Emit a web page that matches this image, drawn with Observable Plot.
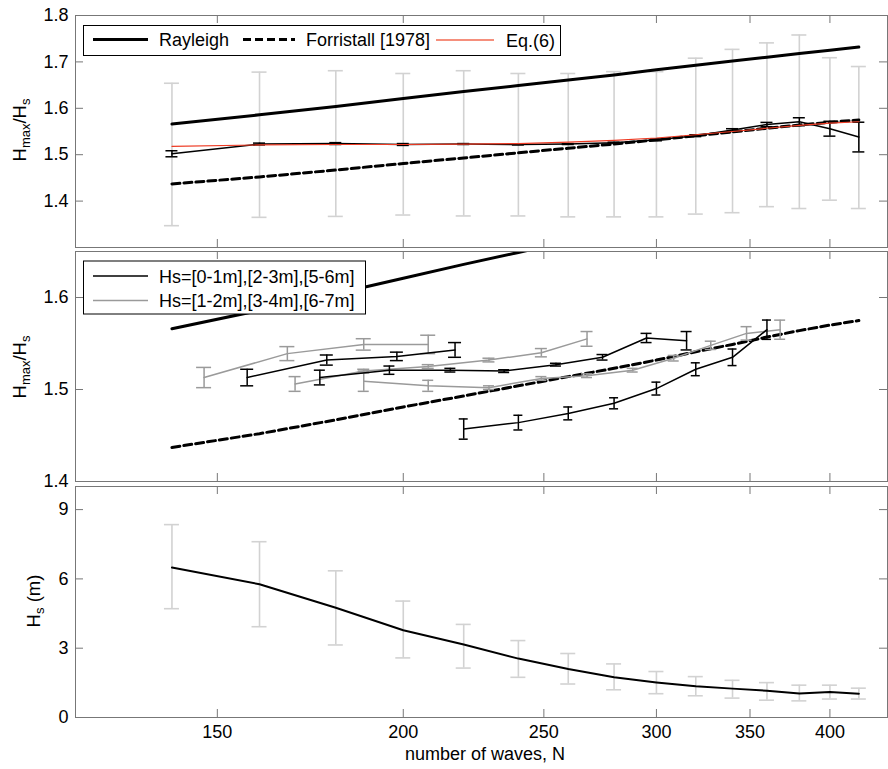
<!DOCTYPE html>
<html><head><meta charset="utf-8">
<script src="https://cdn.jsdelivr.net/npm/d3@7"></script>
<script src="https://cdn.jsdelivr.net/npm/@observablehq/plot@0.6"></script>
<style>
body{margin:0;background:#fff;}
#chart{position:relative;width:888px;height:769px;overflow:hidden;background:#fff;}
#chart svg{position:absolute;left:0;display:block;overflow:visible;}
</style></head><body><div id="chart"></div>
<script>
// ---------- data ----------
const waveN = [140,160,180,200,220,240,260,280,300,320,340,360,380,400,420];
const xTickValues = [150,200,250,300,350,400];
const rayleigh   = [1.566,1.586,1.604,1.621,1.636,1.649,1.661,1.672,1.683,1.693,1.702,1.710,1.718,1.725,1.732];
const forristall = [1.437,1.452,1.467,1.481,1.493,1.504,1.514,1.523,1.532,1.541,1.549,1.557,1.564,1.570,1.575];
const eq6        = [1.518,1.521,1.522,1.522,1.523,1.524,1.527,1.531,1.536,1.543,1.550,1.557,1.563,1.568,1.571];
const ratioMean  = [1.502,1.523,1.524,1.522,1.523,1.522,1.523,1.526,1.532,1.541,1.553,1.565,1.571,1.556,1.538];
const ratioErr   = [0.0065,0.002,0.002,0.002,0.001,0.001,0.001,0.001,0.002,0.002,0.003,0.0046,0.0086,0.016,0.032];
const spreadLo   = [1.347,1.365,1.367,1.370,1.368,1.368,1.366,1.366,1.366,1.372,1.375,1.388,1.384,1.402,1.384];
const spreadHi   = [1.654,1.678,1.681,1.675,1.681,1.675,1.675,1.679,1.679,1.708,1.727,1.741,1.758,1.709,1.690];
const hsMean     = [6.49,5.77,4.75,3.78,3.16,2.55,2.10,1.74,1.52,1.35,1.25,1.16,1.04,1.10,1.03];
const hsLo       = [4.71,3.93,3.14,2.58,2.14,1.74,1.45,1.20,1.03,0.94,0.84,0.75,0.72,0.80,0.80];
const hsHi       = [8.35,7.61,6.35,5.04,4.03,3.33,2.77,2.32,1.99,1.77,1.61,1.51,1.40,1.40,1.27];

// middle panel: Hs classes
const hs67N = [147,167,188,208];
const hs67V = [1.513,1.539,1.549,1.549];
const hs67E = [0.011,0.0076,0.0062,0.010];
const hs56N = [157,177.5,198,217];
const hs56V = [1.513,1.532,1.536,1.543];
const hs56E = [0.009,0.0055,0.0046,0.008];
const hs34N = [169,188,208,229,249,268];
const hs34V = [1.506,1.520,1.525,1.532,1.540,1.555];
const hs34E = [0.008,0.002,0.002,0.002,0.0045,0.008];
const hs23N = [175.6,195.7,215.4,234.6,254.9,274.8,295.2,315.2];
const hs23V = [1.513,1.521,1.521,1.520,1.527,1.535,1.556,1.553];
const hs23E = [0.008,0.0045,0.002,0.0015,0.0015,0.003,0.005,0.010];
const hs12N = [188,208,229,249,268,288.6,308.6,328,348,368];
const hs12V = [1.509,1.504,1.502,1.512,1.515,1.521,1.534,1.548,1.561,1.565];
const hs12E = [0.011,0.006,0.002,0.002,0.002,0.002,0.003,0.0045,0.0073,0.0104];
const hs01N = [220,240,260,280,300,320,340,360];
const hs01V = [1.457,1.464,1.474,1.485,1.501,1.522,1.535,1.565];
const hs01E = [0.011,0.008,0.007,0.006,0.007,0.007,0.009,0.0105];

const legendTop = ["Rayleigh","Forristall [1978]","Eq.(6)"];
const legendMid = ["Hs=[0-1m],[2-3m],[5-6m]","Hs=[1-2m],[3-4m],[6-7m]"];

// ---------- build tables ----------
const main = waveN.map((n,i)=>({n, ray:rayleigh[i], forr:forristall[i], eq:eq6[i],
  m:ratioMean[i], mlo:ratioMean[i]-ratioErr[i], mhi:ratioMean[i]+ratioErr[i],
  lo:spreadLo[i], hi:spreadHi[i], hs:hsMean[i], hslo:hsLo[i], hshi:hsHi[i]}));
const series = (N,V,E)=>N.map((n,i)=>({n, v:V[i], lo:V[i]-E[i], hi:V[i]+E[i]}));

// ---------- style ----------
const FONT = '"Liberation Sans", Arial, Helvetica, sans-serif';
const W = 888, ML = 75, MR = 1;
const FRAME = "#777";
const LIGHT = "#d2d2d2", MIDGRAY = "#9a9a9a", RED = "#ee3b24";
const xScale = {type:"pow", exponent:-0.1, domain:[121.1,440.9]};

function frameMarks(yTicks, plotH) {
  const plotW = W - ML - MR;
  return [
    Plot.tickX(xTickValues, {x:d=>d, stroke:FRAME, insetTop:plotH-8}),
    Plot.tickX(xTickValues, {x:d=>d, stroke:FRAME, insetBottom:plotH-8}),
    Plot.tickY(yTicks, {y:d=>d, stroke:FRAME, insetRight:plotW-8}),
    Plot.tickY(yTicks, {y:d=>d, stroke:FRAME, insetLeft:plotW-8}),
    Plot.frame({stroke:FRAME})
  ];
}
function errorBars(data, {x="n", lo="lo", hi="hi", stroke, half, width=1.5}) {
  return [
    Plot.ruleX(data, {x, y1:lo, y2:hi, stroke, strokeWidth:width}),
    Plot.ruleY(data, {x1:x, x2:x, y:lo, stroke, strokeWidth:width, insetLeft:-half, insetRight:-half}),
    Plot.ruleY(data, {x1:x, x2:x, y:hi, stroke, strokeWidth:width, insetLeft:-half, insetRight:-half})
  ];
}
const styleObj = {fontFamily:FONT, fontSize:"18px", color:"#000", background:"transparent"};

function yLabel(svg, x, y, parts) {
  const t = svg.append("text").attr("transform",`translate(${x},${y}) rotate(-90)`)
    .attr("text-anchor","middle").attr("font-family",FONT).attr("font-size",18.5).attr("fill","#000");
  let shift = 0;
  for (const [txt, sub] of parts) {
    const target = sub ? 4 : 0;
    const ts = t.append("tspan").attr("dy", target - shift).text(txt);
    if (sub) ts.attr("font-size", 13);
    shift = target;
  }
}
function legend(svg, box, items) {
  svg.append("rect").attr("x",box[0]).attr("y",box[1]).attr("width",box[2]).attr("height",box[3])
    .attr("fill","#fff").attr("stroke","#000").attr("stroke-width",1);
  for (const it of items) {
    svg.append("line").attr("x1",it.x1).attr("x2",it.x2).attr("y1",it.y).attr("y2",it.y)
      .style("stroke",it.stroke).style("stroke-width",it.w).attr("stroke-dasharray",it.dash||null);
    svg.append("text").attr("x",it.tx).attr("y",it.y+6.5).attr("text-anchor","start")
      .attr("font-family",FONT).attr("font-size",18).attr("fill","#000").text(it.label);
  }
}

const root = d3.select("#chart");

// ---------- top panel ----------
const p1 = Plot.plot({
  width:W, height:249, marginLeft:ML, marginRight:MR, marginTop:15, marginBottom:2,
  style:styleObj,
  x:{...xScale, axis:null},
  y:{domain:[1.3,1.8]},
  marks:[
    ...errorBars(main, {lo:"lo", hi:"hi", stroke:LIGHT, half:7.5, width:1.6}),
    Plot.line(main, {x:"n", y:"ray", stroke:"#000", strokeWidth:3}),
    Plot.line(main, {x:"n", y:"forr", stroke:"#000", strokeWidth:3, strokeDasharray:"8,4"}),
    Plot.line(main, {x:"n", y:"m", stroke:"#000", strokeWidth:1.5}),
    ...errorBars(main, {lo:"mlo", hi:"mhi", stroke:"#000", half:6, width:1.5}),
    Plot.line(main, {x:"n", y:"eq", stroke:RED, strokeWidth:1.2}),
    Plot.axisY({ticks:[1.4,1.5,1.6,1.7,1.8], tickSize:0, tickPadding:7, label:null, tickFormat:d=>d.toFixed(1)}),
    ...frameMarks([1.4,1.5,1.6,1.7,1.8], 232)
  ]
});
root.node().appendChild(p1);
d3.select(p1).style("top","0px");
{
  const s = d3.select(p1);
  legend(s, [83.5,25.5,477,30], [
    {x1:93,x2:148,y:39.5,stroke:"#000",w:3,tx:159,label:legendTop[0]},
    {x1:243,x2:295,y:39.5,stroke:"#000",w:3,dash:"8,4",tx:306,label:legendTop[1]},
    {x1:436,x2:494,y:40,stroke:"#f26a50",w:1.5,tx:506,label:legendTop[2]}
  ]);
  yLabel(s, 26, 130, [["H",false],["max",true],["/H",false],["s",true]]);
}

// ---------- middle panel ----------
const p2 = Plot.plot({
  width:W, height:234, marginLeft:ML, marginRight:MR, marginTop:2, marginBottom:2,
  style:styleObj,
  x:{...xScale, axis:null},
  y:{domain:[1.4,1.65]},
  marks:[
    Plot.line(main, {x:"n", y:"ray", stroke:"#000", strokeWidth:3, clip:true}),
    Plot.line(main, {x:"n", y:"forr", stroke:"#000", strokeWidth:3, strokeDasharray:"8,4"}),
    Plot.line(series(hs67N,hs67V,hs67E), {x:"n", y:"v", stroke:MIDGRAY, strokeWidth:1.5}),
    ...errorBars(series(hs67N,hs67V,hs67E), {stroke:MIDGRAY, half:7.5}),
    Plot.line(series(hs34N,hs34V,hs34E), {x:"n", y:"v", stroke:MIDGRAY, strokeWidth:1.5}),
    ...errorBars(series(hs34N,hs34V,hs34E), {stroke:MIDGRAY, half:6}),
    Plot.line(series(hs12N,hs12V,hs12E), {x:"n", y:"v", stroke:MIDGRAY, strokeWidth:1.5}),
    ...errorBars(series(hs12N,hs12V,hs12E), {stroke:MIDGRAY, half:5.5}),
    Plot.line(series(hs56N,hs56V,hs56E), {x:"n", y:"v", stroke:"#000", strokeWidth:1.5}),
    ...errorBars(series(hs56N,hs56V,hs56E), {stroke:"#000", half:6.5}),
    Plot.line(series(hs23N,hs23V,hs23E), {x:"n", y:"v", stroke:"#000", strokeWidth:1.5}),
    ...errorBars(series(hs23N,hs23V,hs23E), {stroke:"#000", half:5.5}),
    Plot.line(series(hs01N,hs01V,hs01E), {x:"n", y:"v", stroke:"#000", strokeWidth:1.5}),
    ...errorBars(series(hs01N,hs01V,hs01E), {stroke:"#000", half:4.5}),
    Plot.axisY({ticks:[1.4,1.5,1.6], tickSize:0, tickPadding:7, label:null, tickFormat:d=>d.toFixed(1)}),
    ...frameMarks([1.4,1.5,1.6], 230)
  ]
});
root.node().appendChild(p2);
d3.select(p2).style("top","249px");
{
  const s = d3.select(p2);
  legend(s, [83.5,12,282,53], [
    {x1:93,x2:148,y:27,stroke:"#000",w:1.5,tx:159,label:legendMid[0]},
    {x1:93,x2:148,y:51.5,stroke:MIDGRAY,w:1.5,tx:159,label:legendMid[1]}
  ]);
  yLabel(s, 26, 118, [["H",false],["max",true],["/H",false],["s",true]]);
}

// ---------- bottom panel ----------
const p3 = Plot.plot({
  width:W, height:286, marginLeft:ML, marginRight:MR, marginTop:3, marginBottom:52,
  style:styleObj,
  x:xScale,
  y:{domain:[0,10]},
  marks:[
    ...errorBars(main, {lo:"hslo", hi:"hshi", stroke:LIGHT, half:7.5, width:1.6}),
    Plot.line(main, {x:"n", y:"hs", stroke:"#000", strokeWidth:2}),
    Plot.axisY({ticks:[0,3,6,9], tickSize:0, tickPadding:7, label:null}),
    Plot.axisX({ticks:xTickValues, tickSize:0, tickPadding:8, label:null}),
    ...frameMarks([0,3,6,9], 231)
  ]
});
root.node().appendChild(p3);
d3.select(p3).style("top","483px");
{
  const s = d3.select(p3);
  yLabel(s, 39.5, 118, [["H",false],["s",true],[" (m)",false]]);
  s.append("text").attr("x",485).attr("y",277).attr("text-anchor","middle")
    .attr("font-family",FONT).attr("font-size",18).attr("fill","#000").text("number of waves, N");
}
</script></body></html>
